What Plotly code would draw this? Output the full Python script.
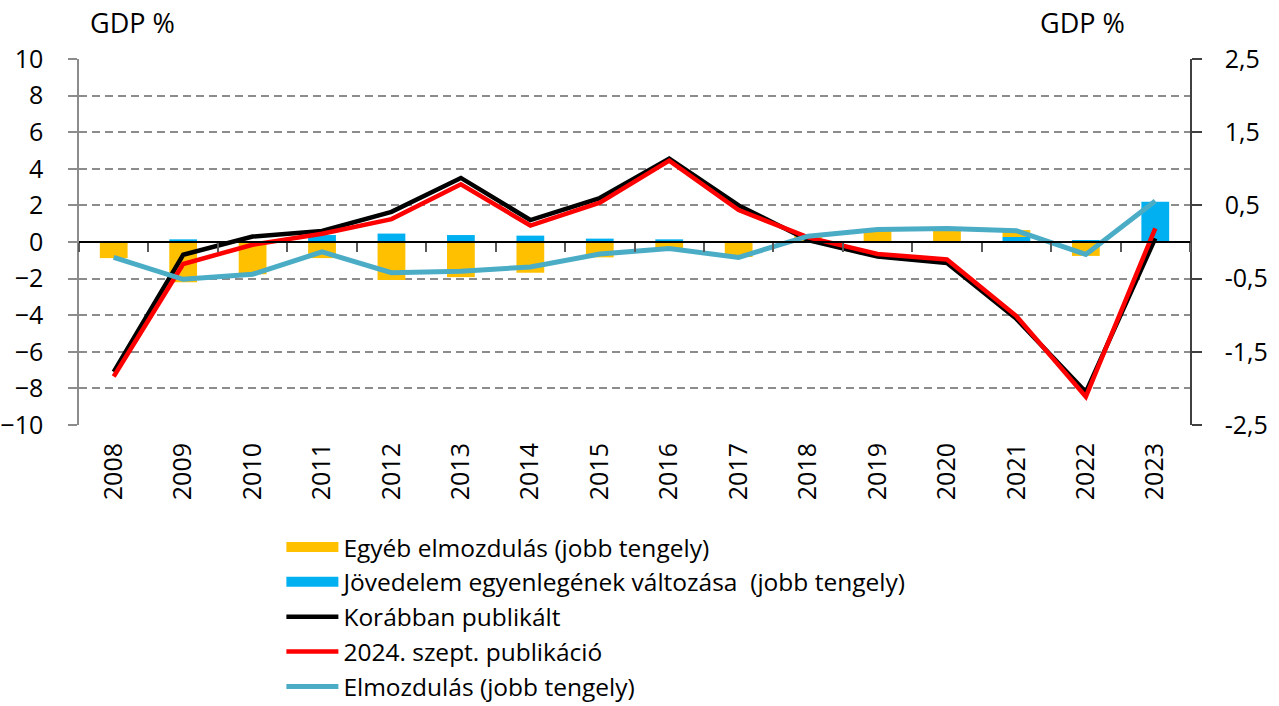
import plotly.graph_objects as go

years = [str(y) for y in range(2008, 2024)]
korabban = [-7.1, -0.7, 0.3, 0.6, 1.65, 3.5, 1.2, 2.4, 4.55, 2.0, 0.1, -0.8, -1.15, -4.2, -8.2, 0.2]
szept = [-7.35, -1.2, -0.15, 0.45, 1.25, 3.15, 0.9, 2.15, 4.45, 1.75, 0.25, -0.65, -0.95, -4.05, -8.45, 0.75]
egyeb = [-0.22, -0.55, -0.44, -0.22, -0.52, -0.48, -0.42, -0.21, -0.1, -0.205, 0.07, 0.15, 0.18, 0.095, -0.19, 0.0]
jovedelem = [0.01, 0.036, 0.0, 0.095, 0.115, 0.095, 0.087, 0.046, 0.036, 0.0, 0.01, 0.01, 0.0, 0.068, 0.02, 0.55]
elmozdulas = [-0.21, -0.51, -0.44, -0.135, -0.42, -0.40, -0.34, -0.165, -0.09, -0.21, 0.08, 0.17, 0.185, 0.155, -0.17, 0.56]

left_ticks = list(range(-10, 11, 2))
right_ticks = [-2.5, -1.5, -0.5, 0.5, 1.5, 2.5]
right_text = ["-2,5", "-1,5", "-0,5", "0,5", "1,5", "2,5"]

name_egyeb = "Egyéb elmozdulás (jobb tengely)"
name_jov = "Jövedelem egyenlegének változása  (jobb tengely)"

FONT = "'Open Sans', Lato, sans-serif"
FS = 25
YELLOW = "#FFC000"
BLUE = "#00B0F0"

fig = go.Figure()
# bars on right scale (base axes); stacked blue first, then yellow
fig.add_trace(go.Bar(x=years, y=jovedelem, name=name_jov, showlegend=False,
                     marker=dict(color=BLUE, line=dict(width=0)), xaxis="x", yaxis="y"))
fig.add_trace(go.Bar(x=years, y=egyeb, name=name_egyeb, showlegend=False,
                     marker=dict(color=YELLOW, line=dict(width=0)), xaxis="x", yaxis="y"))
# legend swatches for the bar series (wide rectangles as in the original legend)
fig.add_trace(go.Scatter(x=[years[0]], y=[None], name=name_egyeb, mode="lines",
                         line=dict(color=YELLOW, width=20), xaxis="x", yaxis="y",
                         legendrank=1, hoverinfo="skip"))
fig.add_trace(go.Scatter(x=[years[0]], y=[None], name=name_jov, mode="lines",
                         line=dict(color=BLUE, width=20), xaxis="x", yaxis="y",
                         legendrank=2, hoverinfo="skip"))
# lines on left scale
fig.add_trace(go.Scatter(x=years, y=korabban, name="Korábban publikált", mode="lines",
                         line=dict(color="#000000", width=4.5), xaxis="x", yaxis="y2",
                         legendrank=3))
fig.add_trace(go.Scatter(x=years, y=szept, name="2024. szept. publikáció", mode="lines",
                         line=dict(color="#FF0000", width=4.5), xaxis="x", yaxis="y2",
                         legendrank=4))
# teal line on right scale, top layer
fig.add_trace(go.Scatter(x=years, y=elmozdulas, name="Elmozdulás (jobb tengely)", mode="lines",
                         line=dict(color="#4BACC6", width=5), xaxis="x2", yaxis="y3",
                         legendrank=5))

fig.update_layout(
    width=1279, height=706,
    margin=dict(l=79, r=89, t=59, b=281, autoexpand=False),
    paper_bgcolor="white", plot_bgcolor="white",
    font=dict(family=FONT, size=FS, color="#000000"),
    barmode="relative", bargap=0.6,
    showlegend=True,
    legend=dict(xref="container", yref="container", x=0.220, y=0.257,
                xanchor="left", yanchor="top",
                font=dict(size=24.5, family=FONT), itemwidth=52,
                bgcolor="rgba(0,0,0,0)"),
    xaxis=dict(type="category", categoryorder="array", categoryarray=years,
               tickangle=-90, showline=False, ticks="", showgrid=False,
               ticklabelstandoff=12, tickfont=dict(size=FS, family=FONT)),
    xaxis2=dict(type="category", categoryorder="array", categoryarray=years,
                overlaying="x", anchor="free", position=0.5, side="bottom",
                matches="x", showticklabels=False, showline=True, linecolor="#000000",
                linewidth=1.5, ticks="outside", tickson="boundaries", ticklen=9,
                tickcolor="#595959", tickwidth=1.5, showgrid=False),
    yaxis=dict(range=[-2.5, 2.5], side="right", tickvals=right_ticks, ticktext=right_text,
               showgrid=False, zeroline=False, showline=True, linecolor="#404040", linewidth=1.5,
               ticks="outside", ticklen=10, tickcolor="#404040", tickwidth=1.5,
               ticklabelstandoff=18, tickfont=dict(size=FS, family=FONT)),
    yaxis2=dict(range=[-10, 10], overlaying="y", side="left", tickvals=left_ticks,
                showgrid=True, gridcolor="#8c8c8c", gridwidth=1.75, griddash="8px,5px",
                zeroline=False, showline=True, linecolor="#8c8c8c", linewidth=1.5,
                ticks="outside", ticklen=9, tickcolor="#8c8c8c", tickwidth=1.5,
                ticklabelstandoff=20, tickfont=dict(size=FS, family=FONT)),
    yaxis3=dict(range=[-2.5, 2.5], overlaying="y", visible=False),
    annotations=[
        dict(text="GDP %", xref="paper", yref="paper", x=0.008, y=1.045, xanchor="left",
             yanchor="bottom", showarrow=False, font=dict(size=27, family=FONT)),
        dict(text="GDP %", xref="paper", yref="paper", x=0.943, y=1.045, xanchor="right",
             yanchor="bottom", showarrow=False, font=dict(size=27, family=FONT)),
    ],
)

fig.write_html("out.html", config={"displayModeBar": False},
               post_script="document.body.style.margin='0px';")
